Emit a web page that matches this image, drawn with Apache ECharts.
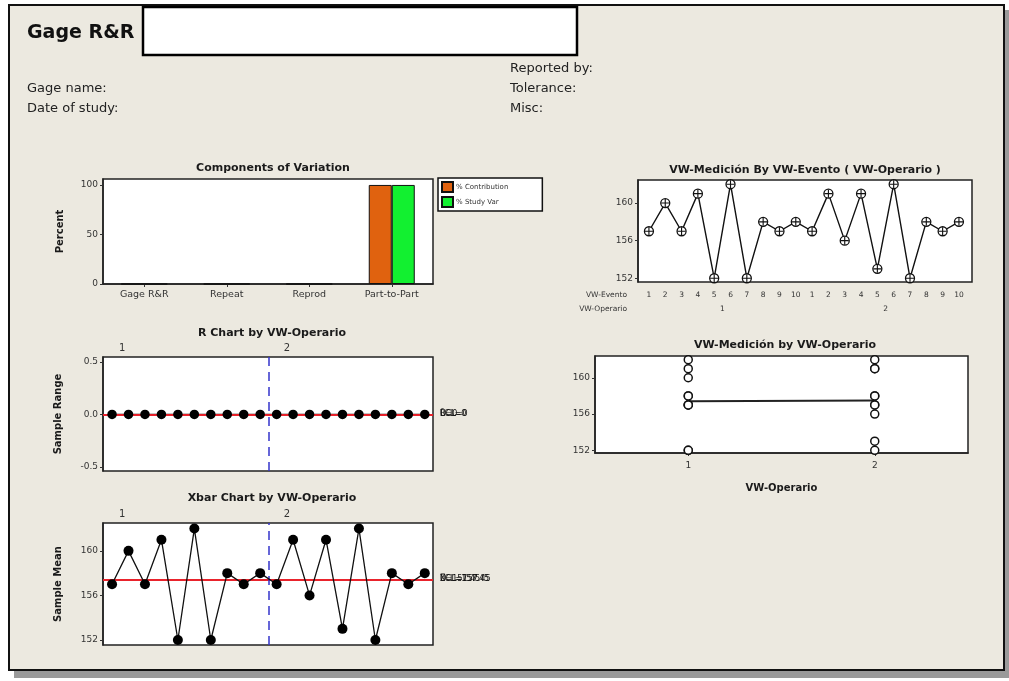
<!DOCTYPE html>
<html>
<head>
<meta charset="utf-8">
<title>Gage R&amp;R</title>
<script src="https://cdn.jsdelivr.net/npm/echarts@6/dist/echarts.min.js"></script>
<style>
  html, body { margin: 0; padding: 0; background: #fff; }
  #chart { width: 1009px; height: 681px; }
</style>
</head>
<body>
<div id="chart"></div>
<script>
// ---- study data ----
const events = ['1', '2', '3', '4', '5', '6', '7', '8', '9', '10'];
const operators = ['1', '2'];
const measOp1 = [157, 160, 157, 161, 152, 162, 152, 158, 157, 158];
const measOp2 = [157, 161, 156, 161, 153, 162, 152, 158, 157, 158];
const rangeOp1 = [0, 0, 0, 0, 0, 0, 0, 0, 0, 0];
const rangeOp2 = [0, 0, 0, 0, 0, 0, 0, 0, 0, 0];
const components = ['Gage R&R', 'Repeat', 'Reprod', 'Part-to-Part'];
const pctContribution = [0, 0, 0, 100];
const pctStudyVar = [0, 0, 0, 100];
const percentTicks = [0, 50, 100];
const rangeTicks = [-0.5, 0, 0.5];
const meanTicks = [152, 156, 160];

// ---- derived values ----
const avg = a => a.reduce((s, v) => s + v, 0) / a.length;
const allMeas = measOp1.concat(measOp2);
const allRange = rangeOp1.concat(rangeOp2);
const xbarbar = avg(allMeas);
const rbar = avg(allRange);
const fmt = v => String(Math.round(v * 100) / 100);
const seqMeas = allMeas.map((v, i) => [i + 1, v]);
const seqRange = allRange.map((v, i) => [i + 1, v]);
const splitAt = measOp1.length + 0.5;
const groupStarts = [1, measOp1.length + 1];
const groupMids = [(1 + measOp1.length) / 2, measOp1.length + (1 + measOp2.length) / 2];
const byOp1 = measOp1.map(v => [1, v]);
const byOp2 = measOp2.map(v => [2, v]);
const opMeans = [[1, avg(measOp1)], [2, avg(measOp2)]];

const FONT = '"DejaVu Sans", Verdana, sans-serif';
const INK = '#1a1a1a';
const tickLbl = { fontSize: 9, color: '#333', fontFamily: FONT, margin: 5 };
const gridBox = { show: true, backgroundColor: '#fff', borderColor: '#222', borderWidth: 1.5 };
const plusPath = 'path://M4.3,0H5.7V10H4.3Z M0,4.3H10V5.7H0Z';

function valueY(min, max, ticks, extra) {
  return Object.assign({
    type: 'value', min: min, max: max,
    splitLine: { show: false },
    axisLine: { show: true, lineStyle: { color: '#222', width: 1.5 } },
    axisTick: { show: true, inside: false, length: 3, customValues: ticks, lineStyle: { color: '#333' } },
    axisLabel: Object.assign({ customValues: ticks }, tickLbl),
    nameTextStyle: { fontSize: 10, fontWeight: 'bold', color: INK, fontFamily: FONT }
  }, extra || {});
}

function ctrlLabels(limits) {
  // UCL, centre and LCL coincide, so their labels print on top of each other
  return limits.map(t => ({
    yAxis: t.v,
    label: { show: true, position: 'end', distance: 7, formatter: t.text, fontSize: 8, color: '#111', fontFamily: FONT },
    lineStyle: { color: '#e8202a', width: 1.5, type: 'solid' }
  }));
}

const chart = echarts.init(document.getElementById('chart'), null, { renderer: 'canvas' });

const option = {
  animation: false,
  backgroundColor: '#fff',
  textStyle: { fontFamily: FONT },
  title: [
    { text: 'Components of Variation', left: 268, top: 158, textAlign: 'center',
      textStyle: { fontSize: 11, fontWeight: 'bold', color: INK, fontFamily: FONT } },
    { text: 'R Chart by VW-Operario', left: 267, top: 323, textAlign: 'center',
      textStyle: { fontSize: 11, fontWeight: 'bold', color: INK, fontFamily: FONT } },
    { text: 'Xbar Chart by VW-Operario', left: 267, top: 488, textAlign: 'center',
      textStyle: { fontSize: 11, fontWeight: 'bold', color: INK, fontFamily: FONT } },
    { text: 'VW-Medición By VW-Evento ( VW-Operario )', left: 800, top: 160, textAlign: 'center',
      textStyle: { fontSize: 11, fontWeight: 'bold', color: INK, fontFamily: FONT } },
    { text: 'VW-Medición by VW-Operario', left: 780, top: 335, textAlign: 'center',
      textStyle: { fontSize: 11, fontWeight: 'bold', color: INK, fontFamily: FONT } }
  ],
  legend: {
    data: ['% Contribution', '% Study Var'],
    orient: 'vertical', left: 438, top: 178,
    itemWidth: 11, itemHeight: 10, itemGap: 3,
    padding: [3, 34, 3, 3],
    backgroundColor: '#fff', borderColor: '#111', borderWidth: 1.5, borderRadius: 0,
    icon: 'rect',
    textStyle: { fontSize: 7, color: '#333', fontFamily: FONT, padding: [0, 0, 0, -2] }
  },
  graphic: [
    // page frame with drop shadow
    { type: 'rect', shape: { x: 14, y: 10, width: 995, height: 668 }, style: { fill: '#9a9a9a' }, silent: true, z: -10 },
    { type: 'rect', shape: { x: 9, y: 5, width: 995, height: 665 }, style: { fill: '#ece9e0', stroke: '#111', lineWidth: 2 }, silent: true, z: -9 },
    // title strip
    { type: 'rect', shape: { x: 143, y: 7, width: 434, height: 48 }, style: { fill: '#fff', stroke: '#000', lineWidth: 2.5 }, silent: true, z: -5 },
    { type: 'text', left: 27, top: 24, style: { text: 'Gage R&R', fontSize: 19, fontWeight: 'bold', fill: '#111', fontFamily: FONT }, silent: true },
    { type: 'text', left: 27, top: 82, style: { text: 'Gage name:', fontSize: 13, fill: '#222', fontFamily: FONT }, silent: true },
    { type: 'text', left: 27, top: 102, style: { text: 'Date of study:', fontSize: 13, fill: '#222', fontFamily: FONT }, silent: true },
    { type: 'text', left: 510, top: 62, style: { text: 'Reported by:', fontSize: 13, fill: '#222', fontFamily: FONT }, silent: true },
    { type: 'text', left: 510, top: 82, style: { text: 'Tolerance:', fontSize: 13, fill: '#222', fontFamily: FONT }, silent: true },
    { type: 'text', left: 510, top: 102, style: { text: 'Misc:', fontSize: 13, fill: '#222', fontFamily: FONT }, silent: true },
    // row captions of the nested x axis
    { type: 'text', right: 1009 - 627, top: 291, style: { text: 'VW-Evento', fontSize: 7.5, fill: '#333', fontFamily: FONT, align: 'right' }, silent: true },
    { type: 'text', right: 1009 - 627, top: 305, style: { text: 'VW-Operario', fontSize: 7.5, fill: '#333', fontFamily: FONT, align: 'right' }, silent: true }
  ],
  grid: [
    Object.assign({ left: 103, top: 179, width: 330, height: 105 }, gridBox),
    Object.assign({ left: 103, top: 357, width: 330, height: 114 }, gridBox),
    Object.assign({ left: 103, top: 523, width: 330, height: 122 }, gridBox),
    Object.assign({ left: 638, top: 180, width: 334, height: 102 }, gridBox),
    Object.assign({ left: 595, top: 356, width: 373, height: 97 }, gridBox)
  ],
  xAxis: [
    // 0: components
    { type: 'category', gridIndex: 0, data: components,
      axisLine: { show: true, lineStyle: { color: '#222', width: 1.5 } },
      axisTick: { show: true, alignWithLabel: true, length: 3, lineStyle: { color: '#333' } },
      axisLabel: Object.assign({}, tickLbl, { fontSize: 9.5, margin: 6, interval: 0 }) },
    // 1: R chart (operator captions on top)
    { type: 'value', gridIndex: 1, position: 'top', min: 0.45, max: 20.5,
      splitLine: { show: false }, axisLine: { show: false }, axisTick: { show: false },
      axisLabel: Object.assign({}, tickLbl, { fontSize: 10, margin: 4, align: 'left', padding: [0, 0, 0, 7],
        customValues: groupStarts, formatter: v => operators[groupStarts.indexOf(v)] }) },
    // 2: Xbar chart
    { type: 'value', gridIndex: 2, position: 'top', min: 0.45, max: 20.5,
      splitLine: { show: false }, axisLine: { show: false }, axisTick: { show: false },
      axisLabel: Object.assign({}, tickLbl, { fontSize: 10, margin: 4, align: 'left', padding: [0, 0, 0, 7],
        customValues: groupStarts, formatter: v => operators[groupStarts.indexOf(v)] }) },
    // 3: measurement by event, event row
    { type: 'value', gridIndex: 3, position: 'bottom', min: 0.33, max: 20.8,
      splitLine: { show: false }, axisLine: { show: false }, axisTick: { show: false },
      axisLabel: Object.assign({}, tickLbl, { fontSize: 7.5, margin: 9,
        customValues: seqMeas.map(p => p[0]), formatter: v => events[(v - 1) % events.length] }) },
    // 4: measurement by event, operator row
    { type: 'value', gridIndex: 3, position: 'bottom', min: 0.33, max: 20.8, offset: 14,
      splitLine: { show: false }, axisLine: { show: false }, axisTick: { show: false },
      axisLabel: Object.assign({}, tickLbl, { fontSize: 7.5, margin: 9,
        customValues: groupMids, formatter: v => operators[groupMids.indexOf(v)] }) },
    // 5: measurement by operator
    { type: 'value', gridIndex: 4, position: 'bottom', min: 0.5, max: 2.5,
      name: 'VW-Operario', nameLocation: 'middle', nameGap: 30,
      nameTextStyle: { fontSize: 10, fontWeight: 'bold', color: INK, fontFamily: FONT },
      splitLine: { show: false },
      axisLine: { show: true, lineStyle: { color: '#222', width: 1.5 } },
      axisTick: { show: true, length: 3, customValues: [1, 2], lineStyle: { color: '#333' } },
      axisLabel: Object.assign({}, tickLbl, { fontSize: 9, margin: 8,
        customValues: [1, 2], formatter: v => operators[v - 1] }) }
  ],
  yAxis: [
    valueY(0, 106, percentTicks, { gridIndex: 0, name: 'Percent', nameLocation: 'middle', nameGap: 38 }),
    valueY(-0.54, 0.548, rangeTicks, { gridIndex: 1, name: 'Sample Range', nameLocation: 'middle', nameGap: 40,
      axisLabel: Object.assign({ customValues: rangeTicks, formatter: v => v.toFixed(1) }, tickLbl) }),
    valueY(151.55, 162.5, meanTicks, { gridIndex: 2, name: 'Sample Mean', nameLocation: 'middle', nameGap: 40 }),
    valueY(151.6, 162.45, meanTicks, { gridIndex: 3 }),
    valueY(151.7, 162.4, meanTicks, { gridIndex: 4 })
  ],
  series: [
    // components of variation
    { name: '% Contribution', type: 'bar', xAxisIndex: 0, yAxisIndex: 0, data: pctContribution,
      barWidth: 23, barGap: '0%',
      itemStyle: { color: '#e0620f', borderColor: '#111', borderWidth: 1 } },
    { name: '% Study Var', type: 'bar', xAxisIndex: 0, yAxisIndex: 0, data: pctStudyVar,
      barWidth: 23, barGap: '0%',
      itemStyle: { color: '#12f030', borderColor: '#111', borderWidth: 1 } },

    // R chart
    { type: 'line', xAxisIndex: 1, yAxisIndex: 1, data: seqRange, showSymbol: false,
      lineStyle: { color: '#111', width: 1.2 }, z: 2,
      markLine: { silent: true, symbol: 'none', z: 3,
        data: ctrlLabels([
          { v: rbar, text: 'UCL=' + fmt(rbar) },
          { v: rbar, text: 'R\u0304=' + fmt(rbar) },
          { v: rbar, text: 'LCL=' + fmt(rbar) }
        ]).concat([{ xAxis: splitAt, label: { show: false },
          lineStyle: { color: '#3434cc', width: 1.5, type: [9, 6] } }]) } },
    { type: 'scatter', xAxisIndex: 1, yAxisIndex: 1, data: seqRange, symbol: 'circle', symbolSize: 9.5,
      itemStyle: { color: '#000', opacity: 1 }, z: 5, silent: true },

    // Xbar chart
    { type: 'line', xAxisIndex: 2, yAxisIndex: 2, data: seqMeas, showSymbol: false,
      lineStyle: { color: '#111', width: 1.3 }, z: 4,
      markLine: { silent: true, symbol: 'none', z: 3,
        data: ctrlLabels([
          { v: xbarbar, text: 'UCL=' + fmt(xbarbar) },
          { v: xbarbar, text: 'X\u033F=' + fmt(xbarbar) },
          { v: xbarbar, text: 'LCL=' + fmt(xbarbar) }
        ]).concat([{ xAxis: splitAt, label: { show: false },
          lineStyle: { color: '#3434cc', width: 1.5, type: [9, 6] } }]) } },
    { type: 'scatter', xAxisIndex: 2, yAxisIndex: 2, data: seqMeas, symbol: 'circle', symbolSize: 10,
      itemStyle: { color: '#000', opacity: 1 }, z: 5, silent: true },

    // measurement by event (operator)
    { type: 'line', xAxisIndex: 3, yAxisIndex: 3, data: seqMeas, symbol: 'circle', symbolSize: 9,
      lineStyle: { color: '#111', width: 1.4 },
      itemStyle: { color: '#fff', borderColor: '#111', borderWidth: 1.3 }, z: 3 },
    { type: 'scatter', xAxisIndex: 3, yAxisIndex: 3, data: seqMeas, symbol: plusPath, symbolSize: 8,
      itemStyle: { color: '#111', opacity: 1 }, z: 4, silent: true },

    // measurement by operator
    { type: 'line', xAxisIndex: 5, yAxisIndex: 4, data: opMeans, showSymbol: false,
      lineStyle: { color: '#222', width: 2 }, z: 3 },
    { type: 'scatter', xAxisIndex: 5, yAxisIndex: 4, data: byOp1.concat(byOp2), symbol: 'circle', symbolSize: 8,
      itemStyle: { color: '#fff', borderColor: '#111', borderWidth: 1.5, opacity: 1 }, z: 4 }
  ]
};

chart.setOption(option);
</script>
</body>
</html>
